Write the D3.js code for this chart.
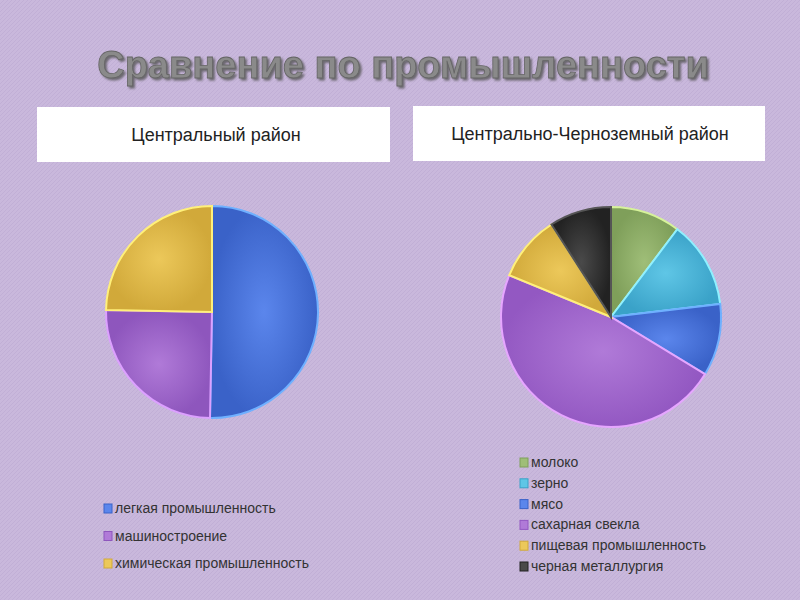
<!DOCTYPE html>
<html><head><meta charset="utf-8">
<script src="https://cdn.jsdelivr.net/npm/d3@7"></script>
<style>body{margin:0;background:#c8b6da;}svg{display:block;font-family:"Liberation Sans",Arial,sans-serif;}</style>
</head><body>
<svg id="c" width="800" height="600"></svg>
<script>
var leftCats = ["легкая промышленность", "машиностроение", "химическая промышленность"];
var leftVals = [50.3, 25, 24.7];
var rightCats = ["молоко", "зерно", "мясо", "сахарная свекла", "пищевая промышленность", "черная металлургия"];
var rightVals = [10.3, 12.8, 10.6, 47.5, 9.7, 9.1];

var colors = {
  "легкая промышленность": ["#5b86ec", "#3a62c8", "#6fb0ff"],
  "машиностроение": ["#b07ad8", "#8e56bd", "#dca0ff"],
  "химическая промышленность": ["#ecc85a", "#d1a93a", "#fff07a"],
  "молоко": ["#9fbe78", "#7f9f5a", "#d6f29a"],
  "зерно": ["#5fc6e6", "#3aa2c8", "#8ff0ff"],
  "мясо": ["#5b86ec", "#3a62c8", "#6fb0ff"],
  "сахарная свекла": ["#b07ad8", "#9358c2", "#e6a6ff"],
  "пищевая промышленность": ["#ecc85a", "#d1a93a", "#fff07a"],
  "черная металлургия": ["#4a4a4a", "#222222", "#555555"]
};

var svg = d3.select("#c");
var defs = svg.append("defs");
var pat = defs.append("pattern").attr("id", "bg").attr("width", 4).attr("height", 4).attr("patternUnits", "userSpaceOnUse");
pat.append("rect").attr("width", 4).attr("height", 4).attr("fill", "#c9b8dc");
pat.append("path").attr("d", "M0,4L4,0").attr("stroke", "#c1afd6").attr("stroke-width", 1);
svg.append("rect").attr("width", 800).attr("height", 600).attr("fill", "url(#bg)");

var sh = defs.append("filter").attr("id", "shadow").attr("x", "-5%").attr("y", "-20%").attr("width", "110%").attr("height", "150%");
sh.append("feDropShadow").attr("dx", 2).attr("dy", 2).attr("stdDeviation", 1).attr("flood-color", "#555").attr("flood-opacity", 0.8);

Object.keys(colors).forEach(function (k, i) {
  var g = defs.append("radialGradient").attr("id", "g" + i);
  g.append("stop").attr("offset", "0%").attr("stop-color", colors[k][0]);
  g.append("stop").attr("offset", "100%").attr("stop-color", colors[k][1]);
  colors[k].push("url(#g" + i + ")");
});

// title
svg.append("text").attr("x", 403).attr("y", 78).attr("text-anchor", "middle")
  .attr("font-size", 38).attr("font-weight", "bold").attr("fill", "#8a8a8a")
  .attr("stroke", "#666").attr("stroke-width", 0.8).attr("filter", "url(#shadow)")
  .text("Сравнение по промышленности");

// header boxes
svg.append("rect").attr("x", 37).attr("y", 107).attr("width", 353).attr("height", 55).attr("fill", "white");
svg.append("text").attr("x", 216).attr("y", 141).attr("text-anchor", "middle").attr("font-size", 18).attr("fill", "#222").text("Центральный   район");
svg.append("rect").attr("x", 413).attr("y", 106).attr("width", 352).attr("height", 55).attr("fill", "white");
svg.append("text").attr("x", 590).attr("y", 140).attr("text-anchor", "middle").attr("font-size", 18).attr("fill", "#222").text("Центрально-Черноземный район");

function drawPie(cats, vals, cx, cy, r) {
  var pie = d3.pie().sort(null).value(function (d) { return d; });
  var arc = d3.arc().innerRadius(0).outerRadius(r);
  var g = svg.append("g").attr("transform", "translate(" + cx + "," + cy + ")");
  g.selectAll("path").data(pie(vals)).enter().append("path")
    .attr("d", arc)
    .attr("fill", function (d, i) { return colors[cats[i]][3]; })
    .attr("stroke", function (d, i) { return colors[cats[i]][2]; })
    .attr("stroke-width", 2);
}
drawPie(leftCats, leftVals, 212, 312, 106);
drawPie(rightCats, rightVals, 611, 317, 110);

function drawLegend(cats, x, y0, dy) {
  var g = svg.append("g");
  var items = g.selectAll("g").data(cats).enter().append("g")
    .attr("transform", function (d, i) { return "translate(" + x + "," + (y0 + i * dy) + ")"; });
  items.append("rect").attr("x", 0).attr("y", -9).attr("width", 8).attr("height", 9)
    .attr("fill", function (d) { return colors[d][0]; }).attr("stroke", function (d) { return colors[d][1]; });
  items.append("text").attr("x", 11).attr("y", 0).attr("font-size", 14).attr("fill", "#333").text(function (d) { return d; });
}
drawLegend(leftCats, 104, 513, 27.5);
drawLegend(rightCats, 520, 467, 20.8);
</script>
</body></html>
